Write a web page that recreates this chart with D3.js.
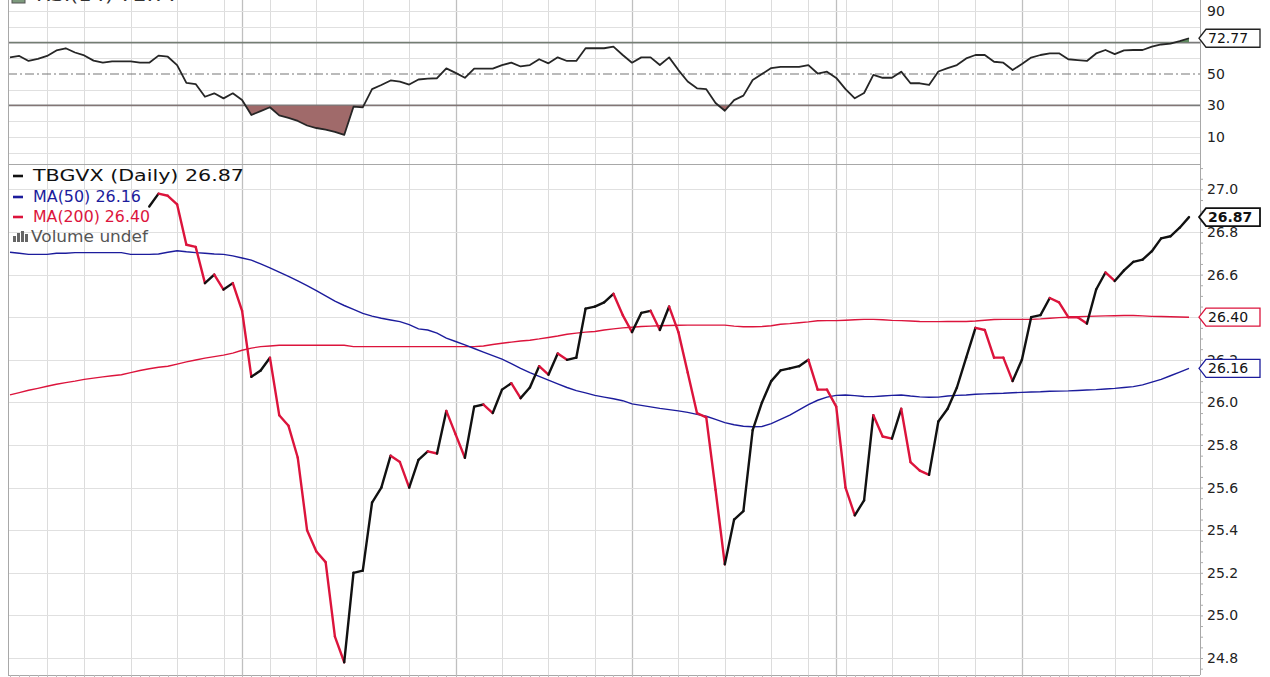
<!DOCTYPE html>
<html><head><meta charset="utf-8">
<script src="https://cdn.jsdelivr.net/npm/d3@7"></script>
<style>
html,body{margin:0;padding:0;background:#fff;}
svg{display:block;font-family:"DejaVu Sans",Verdana,sans-serif;}
</style></head>
<body>
<svg id="c" width="1270" height="677"></svg>
<script>
// ---------- DATA ----------
const nDays = 128;
const priceStart = 15;
const closes = [26.92,26.98,26.97,26.93,26.74,26.73,26.56,26.60,26.53,26.56,
26.43,26.12,26.15,26.21,25.94,25.89,25.74,25.40,25.30,25.25,
24.90,24.78,25.20,25.21,25.53,25.60,25.75,25.72,25.60,25.73,
25.77,25.76,25.96,25.85,25.74,25.98,25.99,25.95,26.06,26.09,
26.02,26.07,26.17,26.13,26.23,26.20,26.21,26.44,26.45,26.47,
26.51,26.41,26.33,26.42,26.43,26.34,26.45,26.33,26.14,25.95,
25.93,25.59,25.24,25.45,25.49,25.87,26.00,26.10,26.15,26.16,
26.17,26.20,26.06,26.06,25.98,25.60,25.47,25.54,25.94,25.84,
25.83,25.97,25.72,25.68,25.66,25.91,25.97,26.07,26.21,26.35,
26.34,26.21,26.21,26.10,26.20,26.40,26.41,26.49,26.47,26.40,
26.40,26.37,26.53,26.61,26.57,26.62,26.66,26.67,26.71,26.77,
26.78,26.82,26.87];
const ma50 = [26.705,26.700,26.695,26.695,26.695,26.700,26.700,26.703,26.703,26.703,
26.703,26.703,26.703,26.695,26.695,26.695,26.697,26.705,26.712,26.707,
26.703,26.700,26.697,26.695,26.688,26.678,26.668,26.650,26.632,26.612,
26.592,26.570,26.548,26.525,26.500,26.475,26.455,26.437,26.418,26.405,
26.395,26.387,26.379,26.365,26.345,26.340,26.325,26.302,26.286,26.270,
26.253,26.236,26.220,26.203,26.182,26.160,26.140,26.122,26.105,26.087,
26.070,26.055,26.045,26.033,26.025,26.017,26.008,25.993,25.986,25.979,
25.972,25.966,25.960,25.953,25.944,25.935,25.920,25.905,25.895,25.888,
25.886,25.887,25.900,25.920,25.940,25.965,25.990,26.010,26.025,26.033,
26.035,26.032,26.028,26.027,26.030,26.033,26.035,26.030,26.026,26.024,
26.025,26.030,26.033,26.035,26.038,26.040,26.042,26.043,26.045,26.047,
26.049,26.050,26.052,26.053,26.054,26.056,26.058,26.060,26.063,26.066,
26.070,26.074,26.082,26.095,26.108,26.125,26.142,26.160];
const ma200 = [26.035,26.046,26.057,26.066,26.076,26.085,26.093,26.100,26.108,26.114,
26.120,26.125,26.130,26.140,26.150,26.158,26.165,26.170,26.180,26.190,
26.199,26.208,26.215,26.222,26.231,26.245,26.255,26.262,26.265,26.268,
26.268,26.268,26.268,26.268,26.268,26.268,26.268,26.262,26.262,26.262,
26.262,26.262,26.262,26.262,26.262,26.262,26.262,26.262,26.262,26.262,
26.262,26.265,26.272,26.278,26.283,26.288,26.292,26.298,26.305,26.312,
26.320,26.325,26.330,26.333,26.340,26.345,26.350,26.353,26.356,26.358,
26.360,26.361,26.362,26.363,26.363,26.363,26.363,26.363,26.358,26.355,
26.355,26.356,26.360,26.367,26.370,26.374,26.378,26.383,26.384,26.384,
26.386,26.388,26.390,26.390,26.388,26.385,26.384,26.382,26.380,26.379,
26.379,26.380,26.380,26.380,26.382,26.386,26.389,26.390,26.390,26.390,
26.390,26.392,26.395,26.398,26.400,26.402,26.404,26.405,26.406,26.407,
26.408,26.408,26.406,26.404,26.403,26.402,26.401,26.400];
const rsi = [60.6,61.5,58.3,59.6,61.5,65.0,66.4,63.7,61.8,58.5,
57.2,58.1,58.1,58.1,57.2,57.2,61.7,61.0,55.7,44.3,
43.6,35.5,37.7,34.5,37.7,33.4,23.9,26.4,28.8,23.6,
22.0,20.1,17.2,15.6,14.6,13.1,11.2,29.2,28.8,40.4,
43.0,45.9,45.1,43.3,46.5,47.0,47.3,53.6,50.7,47.6,
53.4,53.4,53.4,55.7,57.2,54.8,55.7,59.4,56.8,60.6,
58.3,58.3,66.4,66.4,66.4,67.4,62.1,57.2,60.6,60.6,
55.7,60.6,52.5,45.2,40.9,40.3,31.5,26.6,33.4,36.2,
46.2,50.0,53.8,54.6,54.6,54.6,55.7,50.3,51.5,47.5,
40.4,34.5,37.9,49.4,47.6,47.6,51.5,44.1,44.1,43.0,
51.6,53.8,55.7,59.9,62.1,62.1,57.8,57.2,52.5,56.4,
60.5,62.1,63.1,63.2,59.4,58.9,58.3,63.1,65.3,62.7,
65.0,65.3,65.3,67.4,68.8,69.4,71.0,72.77];
const weekIdx = [4,8,13,18,23,28,33,38,43,48,53,58,63,67,72,77,82,86,90,95,100,104,109,114,119,123];
const monthIdx = [25,48,67,89,109];
const priceTicks = [24.8,25.0,25.2,25.4,25.6,25.8,26.0,26.2,26.4,26.6,26.8,27.0];
const rsiTicks = [90,50,30,10];
const rsiGrid = [0,10,20,30,40,50,60,70,80,90,100];
const symbol = "TBGVX", lastClose = 26.87, lastMA50 = 26.16, lastMA200 = 26.40, lastRSI = 72.77;

// ---------- LAYOUT ----------
const svg = d3.select("#c");
const L = 8, R = 1200, rsiTop = -20, rsiBot = 164, pTop = 164, pBot = 675;
const RED = "#dc143c", NAVY = "#1c1c9c";
const x = d3.scaleLinear().domain([0, nDays - 1]).range([10, 1189]);
const yP = d3.scaleLinear().domain([24.8, 27.0]).range([658, 189.4]);
const yR = d3.scaleLinear().domain([10, 90]).range([136.8, 11.2]);

const defs = svg.append("defs");
defs.append("clipPath").attr("id","cpR").append("rect").attr("x",L).attr("y",rsiTop).attr("width",R-L).attr("height",rsiBot-rsiTop);
defs.append("clipPath").attr("id","cpP").append("rect").attr("x",L).attr("y",pTop).attr("width",R-L).attr("height",pBot-pTop);
defs.append("clipPath").attr("id","below30").append("rect").attr("x",L).attr("y",yR(30)).attr("width",R-L).attr("height",rsiBot-yR(30));
defs.append("clipPath").attr("id","above70").append("rect").attr("x",L).attr("y",rsiTop).attr("width",R-L).attr("height",yR(70)-rsiTop);

// ---------- GRID ----------
const g = svg.append("g");
function vgrid(top, bot) {
  g.selectAll(null).data(weekIdx).enter().append("line")
    .attr("x1", d => Math.round(x(d)) + 0.5).attr("x2", d => Math.round(x(d)) + 0.5)
    .attr("y1", top).attr("y2", bot).attr("stroke", "#dcdcdc").attr("stroke-width", 1);
  g.selectAll(null).data(monthIdx).enter().append("line")
    .attr("x1", d => Math.round(x(d)) + 0.5).attr("x2", d => Math.round(x(d)) + 0.5)
    .attr("y1", top).attr("y2", bot).attr("stroke", "#bfbfbf").attr("stroke-width", 1.3);
}
vgrid(0, rsiBot); vgrid(pTop, pBot);
g.selectAll(null).data(rsiGrid.filter(v => v !== 30 && v !== 50 && v !== 70)).enter().append("line")
  .attr("x1", L).attr("x2", R).attr("y1", d => Math.round(yR(d)) + 0.5).attr("y2", d => Math.round(yR(d)) + 0.5)
  .attr("stroke", "#e0e0e0");
g.selectAll(null).data(priceTicks).enter().append("line")
  .attr("x1", L).attr("x2", R).attr("y1", d => Math.round(yP(d)) + 0.5).attr("y2", d => Math.round(yP(d)) + 0.5)
  .attr("stroke", "#e0e0e0");
// RSI reference lines
[30, 70].forEach(v => g.append("line").attr("x1", L).attr("x2", R)
  .attr("y1", yR(v)).attr("y2", yR(v)).attr("stroke", "#7a7a7a").attr("stroke-width", 1.6));
g.append("line").attr("x1", L).attr("x2", R).attr("y1", yR(50)).attr("y2", yR(50))
  .attr("stroke", "#777").attr("stroke-width", 1.1).attr("stroke-dasharray", "9,3,2,3");

// ---------- RSI ----------
const rsiG = svg.append("g").attr("clip-path", "url(#cpR)");
const areaLo = d3.area().x((d, i) => x(i)).y0(yR(30)).y1(d => yR(d));
const areaHi = d3.area().x((d, i) => x(i)).y0(yR(70)).y1(d => yR(d));
rsiG.append("path").datum(rsi).attr("d", areaLo).attr("fill", "#a06a6a").attr("clip-path", "url(#below30)");
rsiG.append("path").datum(rsi).attr("d", areaHi).attr("fill", "#5f8a5f").attr("clip-path", "url(#above70)");
rsiG.append("path").datum(rsi).attr("d", d3.line().x((d, i) => x(i)).y(d => yR(d)))
  .attr("fill", "none").attr("stroke", "#262626").attr("stroke-width", 1.8).attr("stroke-linejoin", "round");

// ---------- PRICE ----------
const pG = svg.append("g").attr("clip-path", "url(#cpP)");
const lineFn = d3.line().x(d => x(d[0])).y(d => yP(d[1]));
pG.append("path").datum(ma200.map((v, i) => [i, v])).attr("d", lineFn)
  .attr("fill", "none").attr("stroke", RED).attr("stroke-width", 1.4);
pG.append("path").datum(ma50.map((v, i) => [i, v])).attr("d", lineFn)
  .attr("fill", "none").attr("stroke", NAVY).attr("stroke-width", 1.4);
const segs = [];
for (let k = 1; k < closes.length; k++) {
  segs.push({a: [priceStart + k - 1, closes[k - 1]], b: [priceStart + k, closes[k]], up: closes[k] > closes[k - 1]});
}
pG.selectAll(null).data(segs).enter().append("path")
  .attr("d", d => lineFn([d.a, d.b]))
  .attr("fill", "none").attr("stroke", d => d.up ? "#111" : RED)
  .attr("stroke-width", 2.4).attr("stroke-linecap", "round");

// ---------- FRAME ----------
const fr = svg.append("g").attr("stroke", "#a8a8a8").attr("fill", "none");
fr.append("line").attr("x1", L + 0.5).attr("x2", L + 0.5).attr("y1", 0).attr("y2", pBot);
fr.append("line").attr("x1", R + 0.5).attr("x2", R + 0.5).attr("y1", 0).attr("y2", pBot);
fr.append("line").attr("x1", L).attr("x2", R).attr("y1", rsiBot + 0.5).attr("y2", rsiBot + 0.5);
fr.append("line").attr("x1", L).attr("x2", R).attr("y1", pBot + 0.5).attr("y2", pBot + 0.5);
// bottom day ticks
svg.append("g").selectAll(null).data(d3.range(nDays)).enter().append("line")
  .attr("x1", d => Math.round(x(d)) + 0.5).attr("x2", d => Math.round(x(d)) + 0.5)
  .attr("y1", pBot).attr("y2", pBot + 3).attr("stroke", "#bbb");

// ---------- AXES ----------
const axP = d3.axisRight(yP).tickValues(d3.range(24.75, 27.1, 0.05)).tickSize(3).tickFormat("");
svg.append("g").attr("transform", `translate(${R},0)`).call(axP)
  .call(a => a.select(".domain").remove()).selectAll("line").attr("stroke", "#aaa");
const tf = d3.format(".1f");
svg.append("g").selectAll(null).data(priceTicks).enter().append("text")
  .attr("x", 1207).attr("y", d => yP(d) + 5).text(d => tf(d))
  .attr("font-size", 14).attr("fill", "#222");
svg.append("g").selectAll(null).data(rsiTicks).enter().append("text")
  .attr("x", 1207).attr("y", d => yR(d) + 5).text(d => d)
  .attr("font-size", 14).attr("fill", "#222");

// value boxes
function vbox(yc, txt, col, bold) {
  const gg = svg.append("g");
  const h = 9;
  gg.append("path").attr("d", `M${R - 1},${yc} L${R + 6},${yc - h} L1260,${yc - h} L1260,${yc + h} L${R + 6},${yc + h} Z`)
    .attr("fill", "#fff").attr("stroke", col).attr("stroke-width", bold ? 1.8 : 1.3);
  gg.append("text").attr("x", 1208).attr("y", yc + 5).text(txt).attr("font-size", 14)
    .attr("font-weight", bold ? "bold" : "normal").attr("fill", "#111");
}
vbox(yR(lastRSI), d3.format(".2f")(lastRSI), "#222", false);
vbox(yP(lastMA200), d3.format(".2f")(lastMA200), RED, false);
vbox(yP(lastMA50), d3.format(".2f")(lastMA50), NAVY, false);
vbox(yP(lastClose), d3.format(".2f")(lastClose), "#111", true);

// ---------- LEGENDS ----------
const lg = svg.append("g").attr("font-size", 15);
// RSI title (cut off at top)
lg.append("rect").attr("x", 12).attr("y", -9).attr("width", 13).attr("height", 12).attr("fill", "#7d9a7d").attr("stroke", "#555");
lg.append("text").attr("x", 36).attr("y", 1).text(`RSI(14) ${d3.format(".2f")(lastRSI)}`)
  .attr("fill", "#333").attr("textLength", 144).attr("lengthAdjust", "spacingAndGlyphs");
const rows = [
  {t: `${symbol} (Daily) ${lastClose.toFixed(2)}`, c: "#111", y: 176, w: 211},
  {t: `MA(50) ${lastMA50.toFixed(2)}`, c: NAVY, y: 197, w: 108},
  {t: `MA(200) ${lastMA200.toFixed(2)}`, c: RED, y: 217, w: 117}
];
rows.forEach(r => {
  lg.append("line").attr("x1", 13).attr("x2", 23).attr("y1", r.y).attr("y2", r.y).attr("stroke", r.c).attr("stroke-width", 2.6);
  lg.append("text").attr("x", 33).attr("y", r.y + 5).text(r.t).attr("fill", r.c)
    .attr("textLength", r.w).attr("lengthAdjust", "spacingAndGlyphs");
});
// volume icon
[[13,6],[17,9],[21,11],[25,8]].forEach(b => lg.append("rect").attr("x", b[0]).attr("y", 242 - b[1]).attr("width", 3).attr("height", b[1]).attr("fill", "#666"));
lg.append("text").attr("x", 31).attr("y", 242).text("Volume undef").attr("fill", "#555")
  .attr("textLength", 117).attr("lengthAdjust", "spacingAndGlyphs");
</script>
</body></html>
